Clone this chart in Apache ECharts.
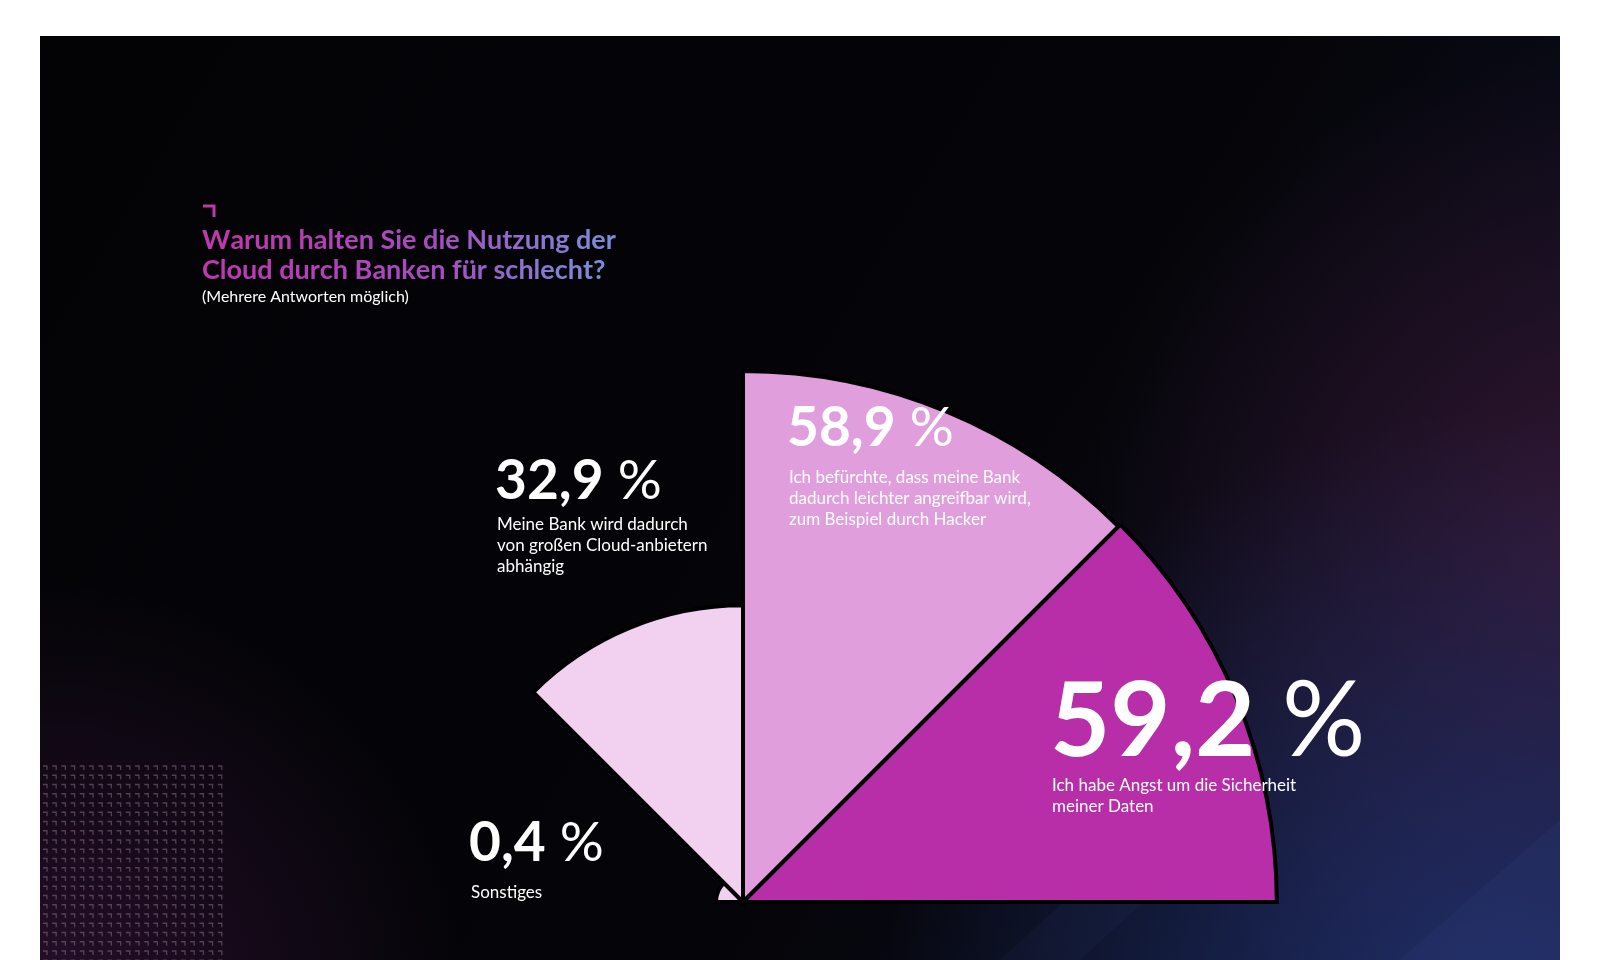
<!DOCTYPE html>
<html><head><meta charset="utf-8">
<script src="https://cdn.jsdelivr.net/npm/echarts@6/dist/echarts.min.js"></script>
<style>html,body{margin:0;padding:0;background:#fff}#c{width:1600px;height:960px}</style>
</head><body><div id="c"></div>
<script>
// ---- data ----
const categories = ['Sonstiges', 'Abhängigkeit', 'Angreifbarkeit', 'Datensicherheit'];
const values = [0.4, 32.9, 58.9, 59.2];
const descriptions = [
  'Sonstiges',
  'Meine Bank wird dadurch\nvon großen Cloud-anbietern\nabhängig',
  'Ich befürchte, dass meine Bank\ndadurch leichter angreifbar wird,\nzum Beispiel durch Hacker',
  'Ich habe Angst um die Sicherheit\nmeiner Daten'
];
const emptySlots = ['e1', 'e2', 'e3', 'e4'];
const titleLines = ['Warum halten Sie die Nutzung der', 'Cloud durch Banken für schlecht?'];
const subtitleText = '(Mehrere Antworten möglich)';

// ---- style / layout ----
const sectorColors = ['#f2d1f0', '#f2d1f0', '#e09fdc', '#b72ea8'];
const FONT = 'Lato, "Open Sans", sans-serif';
const labelLayout = [
  {x: 471, cy: 843, size: 55, dy: 893},
  {x: 497, cy: 481, size: 55, dy: 525},
  {x: 789, cy: 428, size: 55, dy: 478},
  {x: 1052, cy: 722, size: 104, dy: 786}
];

function fmt(v) { return v.toFixed(1).replace('.', ','); }

const chart = echarts.init(document.getElementById('c'), null, {renderer: 'canvas'});

const RG = echarts.graphic.RadialGradient;
const LG = echarts.graphic.LinearGradient;
const bgRect = {x: 40, y: 36, width: 1520, height: 924};

// title: per-character colour ramp (magenta -> periwinkle)
const ramp = [[0, [192, 56, 174]], [0.55, [166, 76, 192]], [1, [122, 142, 216]]];
function rampColor(t) {
  for (let k = 1; k < ramp.length; k++) {
    if (t <= ramp[k][0]) {
      const a = ramp[k - 1], b = ramp[k], f = (t - a[0]) / (b[0] - a[0]);
      const c = a[1].map((v, n) => Math.round(v + (b[1][n] - v) * f));
      return 'rgb(' + c.join(',') + ')';
    }
  }
  return 'rgb(' + ramp[ramp.length - 1][1].join(',') + ')';
}
const titleRich = {};
const maxLen = Math.max.apply(null, titleLines.map(l => l.length));
const titleStr = titleLines.map(line => line.split('').map((ch, i) => {
  const key = 'c' + i;
  titleRich[key] = {fill: rampColor(i / (maxLen - 1)), font: 'bold 27px ' + FONT, lineHeight: 30.5};
  return '{' + key + '|' + ch + '}';
}).join('')).join('\n');

const elements = [
  {type: 'rect', z: -100, silent: true, shape: bgRect,
   style: {fill: new LG(0, 0, 1, 1, [{offset: 0, color: '#030306'}, {offset: 0.6, color: '#050509'}, {offset: 1, color: '#0c1128'}])}},
  {type: 'rect', z: -99, silent: true, shape: bgRect,
   style: {fill: new RG(1600, 560, 520, [{offset: 0, color: 'rgba(62,24,54,0.8)'}, {offset: 1, color: 'rgba(62,24,54,0)'}], true)}},
  {type: 'rect', z: -98, silent: true, shape: bgRect,
   style: {fill: new RG(1500, 1030, 620, [{offset: 0, color: 'rgba(34,50,112,0.9)'}, {offset: 1, color: 'rgba(34,50,112,0)'}], true)}},
  {type: 'rect', z: -97, silent: true, shape: bgRect,
   style: {fill: new RG(40, 1000, 420, [{offset: 0, color: 'rgba(66,24,70,0.55)'}, {offset: 1, color: 'rgba(66,24,70,0)'}], true)}},
  {type: 'polygon', z: -96, silent: true, shape: {points: [[1000, 960], [1120, 850], [1200, 850], [1080, 960]]},
   style: {fill: 'rgba(70,90,160,0.07)'}},
  {type: 'polygon', z: -96, silent: true, shape: {points: [[1400, 960], [1560, 820], [1560, 960]]},
   style: {fill: 'rgba(70,90,160,0.10)'}},
  // bracket mark
  {type: 'polyline', z: 50, silent: true, shape: {points: [[203, 206], [214, 206], [214, 217]]},
   style: {stroke: '#b93aaa', lineWidth: 3, fill: null}},
  // title
  {type: 'text', z: 50, silent: true, x: 202, y: 225,
   style: {text: titleStr, rich: titleRich, textVerticalAlign: 'top'}},
  {type: 'text', z: 50, silent: true, x: 202, y: 289,
   style: {text: subtitleText, font: '16px ' + FONT, fill: '#ffffff', textVerticalAlign: 'top'}}
];

// decorative bracket grid
for (let j = 0; j < 22; j++) {
  for (let i = 0; i < 20; i++) {
    const x = 43 + 9.2 * i, y = 766 + 9.25 * j;
    elements.push({type: 'polyline', z: -95, silent: true, shape: {points: [[x, y], [x + 4, y], [x + 4, y + 4]]},
      style: {fill: null, stroke: 'rgba(175,135,170,0.42)', lineWidth: 1.3}});
  }
}

values.forEach((v, i) => {
  const L = labelLayout[i];
  elements.push({type: 'text', z: 60, silent: true, x: L.x - 2, y: L.cy,
    style: {text: '{n|' + fmt(v) + '}{p| %}', textVerticalAlign: 'middle',
      rich: {n: {font: 'bold ' + L.size + 'px ' + FONT, fill: '#fff'},
             p: {font: 'normal ' + L.size + 'px ' + FONT, fill: '#fff'}}}});
  elements.push({type: 'text', z: 60, silent: true, x: L.x, y: L.dy - 10.5,
    style: {text: descriptions[i], font: '17px ' + FONT, lineHeight: 21, fill: '#ffffff', textVerticalAlign: 'top'}});
});

chart.setOption({
  backgroundColor: '#ffffff',
  animation: false,
  graphic: {elements: elements},
  polar: {center: [743, 902], radius: 541},
  angleAxis: {type: 'category', data: categories.concat(emptySlots), startAngle: 180, clockwise: true, show: false},
  radiusAxis: {type: 'value', min: 0, max: 60, show: false},
  series: [{
    type: 'bar', coordinateSystem: 'polar', silent: true,
    barCategoryGap: '0%', barMinHeight: 27,
    data: values.map((v, i) => ({value: v, itemStyle: {color: sectorColors[i]}})),
    itemStyle: {borderColor: '#000', borderWidth: 4},
    label: {show: false}
  }]
});
</script></body></html>
